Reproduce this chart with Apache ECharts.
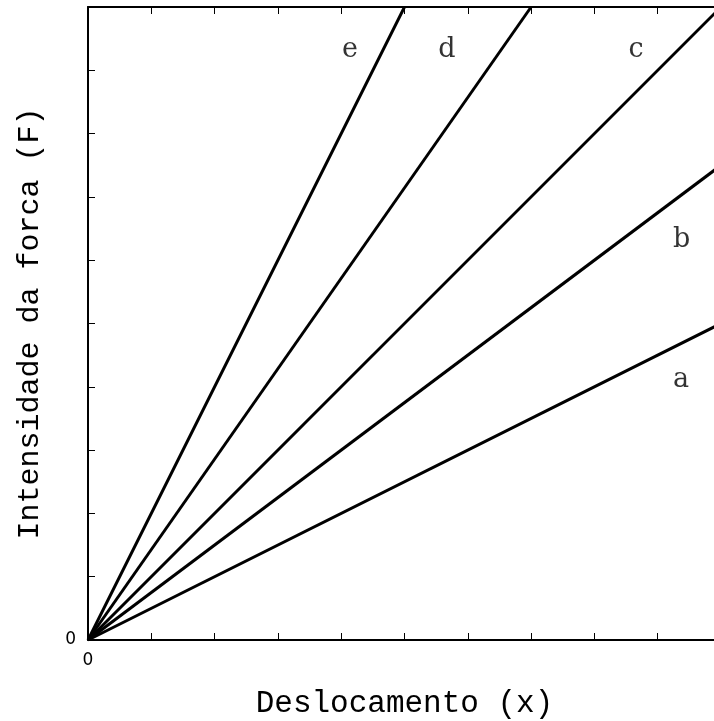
<!DOCTYPE html>
<html>
<head>
<meta charset="utf-8">
<script src="https://cdn.jsdelivr.net/npm/echarts@6/dist/echarts.min.js"></script>
<style>
  html, body { margin: 0; padding: 0; background: #fff; }
  #chart { width: 714px; height: 721px; }
</style>
</head>
<body>
<div id="chart"></div>
<script>
// retas F = k * x, cada uma com a sua letra
var lineNames = ['a', 'b', 'c', 'd', 'e'];
var lineEnds = [[10, 5], [10, 7.5], [10, 10], [7, 10], [5, 10]];
// onde cada letra fica (coordenadas do gráfico)
var labelPos = [[9.37, 4.1], [9.38, 6.32], [8.66, 9.32], [5.67, 9.32], [4.14, 9.32]];

var axisMin = 0, axisMax = 10, axisStep = 1;
var mono = '"Liberation Mono", monospace';
var serif = '"DejaVu Serif", "Liberation Serif", serif';

var myChart = echarts.init(document.getElementById('chart'));

var series = [];
for (var i = 0; i < lineNames.length; i++) {
  series.push({
    name: lineNames[i],
    type: 'line',
    data: [[0, 0], lineEnds[i]],
    symbol: 'none',
    lineStyle: { color: '#000', width: 3 },
    silent: true,
    animation: false
  });
}
// letras das retas
series.push({
  type: 'scatter',
  symbolSize: 0,
  silent: true,
  animation: false,
  data: labelPos.map(function (p, i) {
    return { value: p, name: lineNames[i] };
  }),
  label: {
    show: true,
    position: 'inside',
    formatter: '{b}',
    color: '#000',
    fontFamily: serif,
    fontSize: 27
  }
});

function onlyZero(v) { return v === 0 ? '0' : ''; }

var baseAxis = {
  min: axisMin,
  max: axisMax,
  interval: axisStep,
  splitLine: { show: false },
  axisLine: { show: true, onZero: false, lineStyle: { color: '#000', width: 2 } },
  axisTick: { show: true, inside: true, length: 7, lineStyle: { color: '#000', width: 1 } }
};

var option = {
  backgroundColor: '#fff',
  animation: false,
  // a moldura direita fica fora da janela, como no original
  grid: { left: 88, width: 633, top: 7, height: 633, containLabel: false, outerBoundsMode: 'none' },
  xAxis: [
    Object.assign({}, baseAxis, {
      type: 'value',
      position: 'bottom',
      name: 'Deslocamento (x)',
      nameLocation: 'middle',
      nameGap: 48,
      nameTextStyle: { fontFamily: mono, fontSize: 31, color: '#000' },
      axisLabel: { formatter: onlyZero, color: '#000', fontSize: 17, margin: 12, fontFamily: 'DejaVu Sans' }
    }),
    Object.assign({}, baseAxis, {
      type: 'value',
      position: 'top',
      axisLabel: { show: false }
    })
  ],
  yAxis: [
    Object.assign({}, baseAxis, {
      type: 'value',
      position: 'left',
      name: 'Intensidade da forca (F)',
      nameLocation: 'middle',
      nameGap: 43,
      nameTextStyle: { fontFamily: mono, fontSize: 30, color: '#000' },
      axisLabel: { formatter: onlyZero, color: '#000', fontSize: 17, margin: 12, fontFamily: 'DejaVu Sans' }
    }),
    Object.assign({}, baseAxis, {
      type: 'value',
      position: 'right',
      axisLabel: { show: false }
    })
  ],
  series: series
};

myChart.setOption(option);
</script>
</body>
</html>
